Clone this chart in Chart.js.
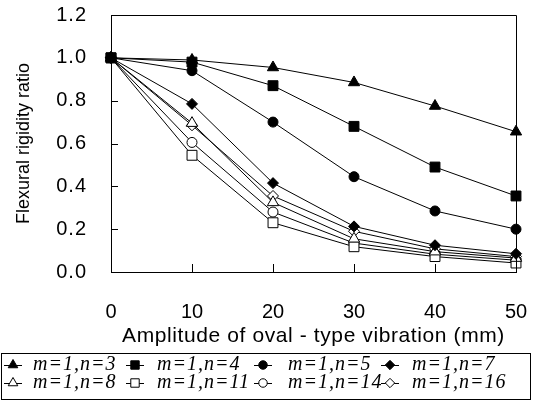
<!DOCTYPE html>
<html>
<head>
<meta charset="utf-8">
<script src="https://cdn.jsdelivr.net/npm/chart.js@4/dist/chart.umd.min.js"></script>
<style>
html,body{margin:0;padding:0;background:#fff;}
#wrap{width:534px;height:401px;position:relative;}
</style>
</head>
<body>
<div id="wrap"><canvas id="c" width="534" height="401"></canvas></div>
<script>
// ---- data ----
const amplitudes = ['0', '10', '20', '30', '40', '50'];
const seriesNames = ['m=1,n=3', 'm=1,n=4', 'm=1,n=5', 'm=1,n=7', 'm=1,n=8', 'm=1,n=11', 'm=1,n=14', 'm=1,n=16'];
const n3  = [1.0, 0.99, 0.955, 0.885, 0.775, 0.655];
const n4  = [1.0, 0.98, 0.87, 0.68, 0.49, 0.355];
const n5  = [1.0, 0.94, 0.70, 0.445, 0.285, 0.20];
const n7  = [1.0, 0.785, 0.415, 0.213, 0.125, 0.085];
const n8  = [1.0, 0.695, 0.325, 0.155, 0.095, 0.065];
const n11 = [1.0, 0.545, 0.23, 0.118, 0.072, 0.042];
const n14 = [1.0, 0.605, 0.28, 0.135, 0.083, 0.055];
const n16 = [1.0, 0.685, 0.355, 0.19, 0.108, 0.072];
const yTicks = [0.0, 0.2, 0.4, 0.6, 0.8, 1.0, 1.2];
const xTitle = 'Amplitude of oval - type vibration (mm)';
const yTitle = 'Flexural rigidity ratio';

// ---- styles ----
const seriesValues = [n3, n4, n5, n7, n8, n11, n14, n16];
const styles = [
  {ps: 'triangle', r: 6.5, fill: '#000'},
  {ps: 'rect', r: 7, fill: '#000'},
  {ps: 'circle', r: 5, fill: '#000'},
  {ps: 'rectRot', r: 5.5, fill: '#000'},
  {ps: 'triangle', r: 6.5, fill: '#fff'},
  {ps: 'rect', r: 7, fill: '#fff'},
  {ps: 'circle', r: 5, fill: '#fff'},
  {ps: 'rectRot', r: 5.5, fill: '#fff'}
];
const orders = [1, 0, 1, 1, 1, 1, 1, 1];

const datasets = seriesValues.map((vals, i) => ({
  label: seriesNames[i],
  data: vals,
  borderColor: '#000',
  borderWidth: 1,
  backgroundColor: styles[i].fill,
  pointStyle: styles[i].ps,
  pointRadius: styles[i].r,
  pointBackgroundColor: styles[i].fill,
  pointBorderColor: '#000',
  pointBorderWidth: 1,
  pointHoverRadius: styles[i].r,
  tension: 0,
  fill: false,
  clip: false,
  order: orders[i]
}));

const fam = '"Liberation Sans", Arial, sans-serif';
const tickFont = {family: fam, size: 20};

function spaced(fn, ls) {
  return function () {
    const ctx = this.ctx;
    const prev = ctx.letterSpacing;
    try { ctx.letterSpacing = ls; } catch (e) {}
    fn.apply(this, arguments);
    try { ctx.letterSpacing = prev || '0px'; } catch (e) {}
  };
}

const framePlugin = {
  id: 'frame',
  afterDraw(chart) {
    const ctx = chart.ctx;
    const a = chart.chartArea;
    const xs = chart.scales.x, ys = chart.scales.y;
    ctx.save();
    ctx.strokeStyle = '#000';
    ctx.lineWidth = 1;
    ctx.beginPath();
    ctx.moveTo(Math.round(a.left) + 0.5, Math.round(a.top) + 0.5);
    ctx.lineTo(Math.round(a.right) + 0.5, Math.round(a.top) + 0.5);
    ctx.lineTo(Math.round(a.right) + 0.5, Math.round(a.bottom) + 0.5);
    ctx.stroke();
    // inward ticks
    ctx.beginPath();
    ys.ticks.forEach(t => {
      if (t.value <= 0) return;
      const y = Math.round(ys.getPixelForValue(t.value)) + 0.5;
      ctx.moveTo(a.left, y); ctx.lineTo(a.left + 7, y);
    });
    xs.ticks.forEach((t, i) => {
      if (i === 0 || i === xs.ticks.length - 1) return;
      const x = Math.round(xs.getPixelForTick(i)) + 0.5;
      ctx.moveTo(x, a.bottom); ctx.lineTo(x, a.bottom - 8);
    });
    ctx.stroke();

    // legend box
    ctx.strokeRect(1.5, 353.5, 529, 46);
    const colX = [13, 135, 263, 390];
    const textX = [33, 157, 288, 412];
    const rowY = [365, 383];
    ctx.font = 'italic 20px "Liberation Serif", "Times New Roman", serif';
    try { ctx.letterSpacing = '1px'; } catch (e) {}
    ctx.textBaseline = 'middle';
    ctx.textAlign = 'left';
    ctx.fillStyle = '#000';
    chart.data.datasets.forEach((ds, i) => {
      const c = i % 4;
      const cx = colX[c], cy = rowY[Math.floor(i / 4)];
      ctx.beginPath();
      ctx.moveTo(cx - 9, cy + 0.5); ctx.lineTo(cx + 9, cy + 0.5);
      ctx.stroke();
      ctx.fillStyle = ds.pointBackgroundColor;
      ctx.strokeStyle = '#000';
      Chart.helpers.drawPoint(ctx, {pointStyle: ds.pointStyle, radius: ds.pointRadius * 0.85, rotation: 0, borderWidth: 1}, cx, cy);
      ctx.fillStyle = '#000';
      ctx.fillText(ds.label, textX[c], cy);
    });
    try { ctx.letterSpacing = '0px'; } catch (e) {}
    ctx.restore();
  }
};

new Chart(document.getElementById('c'), {
  type: 'line',
  data: {labels: amplitudes, datasets: datasets},
  options: {
    responsive: false,
    animation: false,
    devicePixelRatio: 1,
    layout: {padding: {left: 0, right: 18, top: 15, bottom: 50}},
    plugins: {legend: {display: false}, tooltip: {enabled: false}},
    scales: {
      x: {
        type: 'category',
        offset: false,
        grid: {display: true, drawOnChartArea: false, drawTicks: false},
        border: {display: true, color: '#000', width: 1},
        ticks: {color: '#000', font: tickFont, padding: 28, maxRotation: 0, autoSkip: false},
        title: {display: true, text: xTitle, color: '#000', font: {family: fam, size: 21}, padding: {top: 0, bottom: 2}},
        afterFit(s) {
          s.height = 79; s.paddingLeft = 0; s.paddingRight = 0;
          if (!s._spaced) { s.drawTitle = spaced(s.drawTitle, '0.6px'); s._spaced = true; }
        }
      },
      y: {
        min: 0, max: 1.2,
        grid: {display: true, drawOnChartArea: false, drawTicks: false},
        border: {display: true, color: '#000', width: 1},
        afterBuildTicks(s) { s.ticks = yTicks.map(v => ({value: v})); },
        ticks: {color: '#000', font: tickFont, padding: 24, callback: v => Number(v).toFixed(1)},
        title: {display: true, text: yTitle, color: '#000', font: {family: fam, size: 18}, padding: {top: 13, bottom: 0}},
        afterFit(s) {
          s.width = 111; s.paddingTop = 0; s.paddingBottom = 0;
          if (!s._spaced) { s.drawLabels = spaced(s.drawLabels, '1px'); s._spaced = true; }
        }
      }
    }
  },
  plugins: [framePlugin]
});
</script>
</body>
</html>
